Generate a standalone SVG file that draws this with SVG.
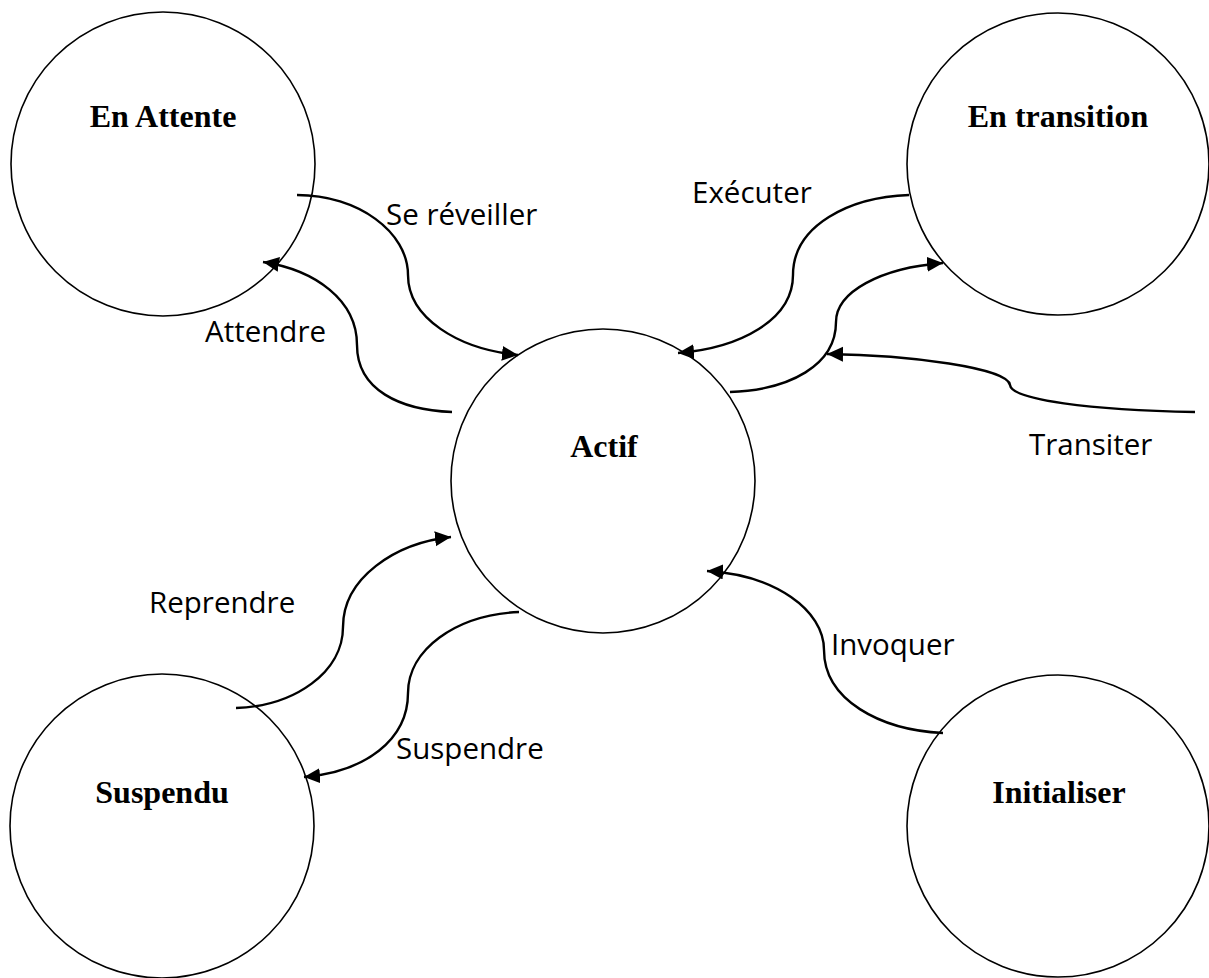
<svg xmlns="http://www.w3.org/2000/svg" width="1209" height="978" viewBox="0 0 1209 978">
<defs>
<style>
.node{fill:#fff;stroke:#000;stroke-width:1.6}
.title{font-family:"Liberation Serif","Times New Roman",serif;font-weight:bold;font-size:32px;fill:#000;text-anchor:middle}
.lbl{font-family:"Open Sans","Noto Sans",sans-serif;font-size:29.5px;fill:#000}
.edge{fill:none;stroke:#000;stroke-width:2.4}
</style>
<marker id="arr" markerUnits="userSpaceOnUse" markerWidth="18" markerHeight="16" refX="16" refY="7.5" orient="auto">
<path d="M0,0 L16,7.5 L0,15 z" fill="#000"/>
</marker>
</defs>
<rect width="1209" height="978" fill="#fff"/>
<g id="node-en-attente">
<circle class="node" cx="163" cy="164" r="152"/>
<text class="title" x="163" y="127">En Attente</text>
</g>
<g id="node-en-transition">
<circle class="node" cx="1058" cy="164" r="151"/>
<text class="title" x="1058" y="127">En transition</text>
</g>
<g id="node-actif">
<circle class="node" cx="603" cy="481" r="152"/>
<text class="title" x="604" y="457">Actif</text>
</g>
<g id="node-suspendu">
<circle class="node" cx="162" cy="826" r="152"/>
<text class="title" x="162" y="803">Suspendu</text>
</g>
<g id="node-initialiser">
<circle class="node" cx="1058" cy="826" r="151"/>
<text class="title" x="1059" y="803">Initialiser</text>
</g>
<g id="connectors">
<path class="edge" marker-end="url(#arr)" d="M297,195 C358,195 408,232 408,275 C408,318 458,349 518,355"/>
<path class="edge" marker-end="url(#arr)" d="M452,412 C400,410 357,390 357,345 C357,300 315,270 263,262"/>
<path class="edge" marker-end="url(#arr)" d="M909,195 C850,197 793,225 793,275 C793,320 740,348 678,353"/>
<path class="edge" marker-end="url(#arr)" d="M730,392 C790,390 836,365 836,322 C836,292 880,268 943,263"/>
<path class="edge" marker-end="url(#arr)" d="M1195,412 C1090,410 1012,400 1010,385 C1008,368 910,355 827,354"/>
<path class="edge" marker-end="url(#arr)" d="M236,708 C295,706 343,672 343,627 C343,578 395,543 451,537"/>
<path class="edge" marker-end="url(#arr)" d="M519,612 C455,615 408,650 408,693 C408,740 365,772 304,777"/>
<path class="edge" marker-end="url(#arr)" d="M943,733 C880,730 824,700 824,650 C824,610 775,575 707,571"/>
</g>
<g id="labels">
<text class="lbl" x="386" y="225">Se réveiller</text>
<text class="lbl" x="205" y="342">Attendre</text>
<text class="lbl" x="692" y="203">Exécuter</text>
<text class="lbl" x="1029" y="455">Transiter</text>
<text class="lbl" x="149" y="613">Reprendre</text>
<text class="lbl" x="396" y="759">Suspendre</text>
<text class="lbl" x="831" y="655">Invoquer</text>
</g>
</svg>
